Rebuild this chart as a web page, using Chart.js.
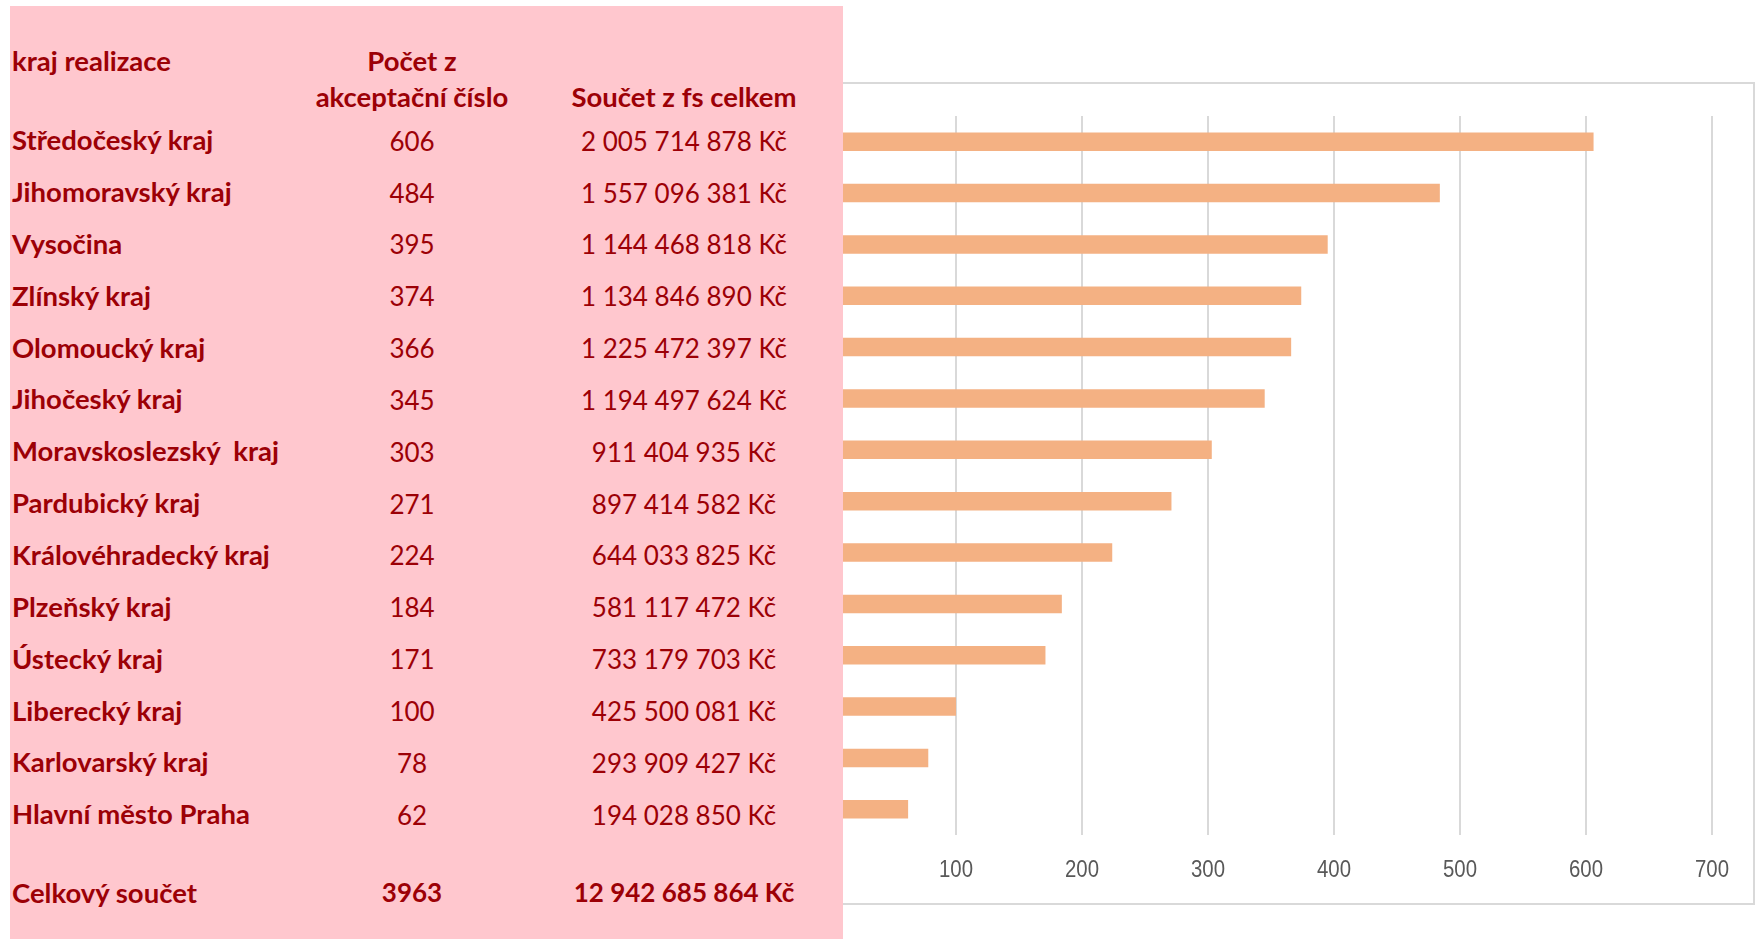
<!DOCTYPE html>
<html lang="cs">
<head>
<meta charset="utf-8">
<title>kraj realizace</title>
<script src="https://cdn.jsdelivr.net/npm/chart.js@4.4.1/dist/chart.umd.min.js"></script>
<style>
    html, body { margin: 0; padding: 0; background: #ffffff; }
    body { width: 1756px; height: 939px; position: relative; overflow: hidden; }
    #chart-frame {
        position: absolute; left: 780px; top: 82px;
        width: 971px; height: 819px;
        border: 2px solid #d9d9d9; z-index: 0;
    }
    #chart-box { position: absolute; left: 0; top: 0; width: 1756px; height: 939px; z-index: 1; }
    #table-panel {
        position: absolute; left: 10px; top: 6px; width: 833px; height: 933px;
        background: #ffc7ce; z-index: 2;
    }
    .cell {
        position: absolute; height: 30px; line-height: 30px;
        font-family: Lato, 'Noto Sans', sans-serif; font-size: 26px;
        color: #9c0006; white-space: pre;
    }
    .name { left: 2px; font-weight: bold; font-size: 27.5px; }
    .head { font-weight: bold; font-size: 27.5px; }
    .num { width: 300px; text-align: center; }
    .bold { font-weight: bold; }
</style>
</head>
<body>
<div id="chart-frame"></div>
<div id="chart-box"><canvas id="count-bar-chart"></canvas></div>
<div id="table-panel"></div>

<script>
const regions = [
    'Středočeský kraj', 'Jihomoravský kraj', 'Vysočina', 'Zlínský kraj',
    'Olomoucký kraj', 'Jihočeský kraj', 'Moravskoslezský  kraj', 'Pardubický kraj',
    'Královéhradecký kraj', 'Plzeňský kraj', 'Ústecký kraj', 'Liberecký kraj',
    'Karlovarský kraj', 'Hlavní město Praha'
];
const counts = [606, 484, 395, 374, 366, 345, 303, 271, 224, 184, 171, 100, 78, 62];
const sums = [
    2005714878, 1557096381, 1144468818, 1134846890, 1225472397, 1194497624, 911404935,
    897414582, 644033825, 581117472, 733179703, 425500081, 293909427, 194028850
];
const totalLabel = 'Celkový součet';
const totalCount = 3963;
const totalSum = 12942685864;
const headers = ['kraj realizace', 'Počet z', 'akceptační číslo', 'Součet z fs celkem'];
const xTicks = [0, 100, 200, 300, 400, 500, 600, 700];

// Table layout (panel coords, panel starts at x=10, y=6)
const COL_COUNT = 402;
const COL_SUM = 674;
const ROW_PITCH = 51.85;   // table rows are a bit taller than the bar bands

// "2005714878" -> "2 005 714 878 Kč"
function formatKc(value) {
    return String(value).replace(/\B(?=(\d{3})+(?!\d))/g, ' ') + ' Kč';
}

// Add one text cell to the pink panel
function addCell(panel, text, cls, centerY, centerX, shift) {
    const el = document.createElement('div');
    el.className = 'cell ' + cls;
    el.textContent = text;
    el.style.top = (centerY - 6 - 15 - (shift || 1)) + 'px';
    if (centerX !== undefined) el.style.left = (centerX - 150) + 'px';
    panel.appendChild(el);
}

// Narrow tick labels under the value axis (Calibri-like width)
const narrowTicks = {
    id: 'narrowTicks',
    afterDraw(chart) {
        const scale = chart.scales.x;
        const c = chart.ctx;
        const y = scale.top + 35;
        c.save();
        c.fillStyle = '#595959';
        c.font = "24px 'Liberation Sans', sans-serif";
        c.textAlign = 'center';
        c.textBaseline = 'middle';
        scale.ticks.forEach(tick => {
            const x = scale.getPixelForValue(tick.value);
            c.save();
            c.translate(x, y);
            c.scale(0.85, 1);
            c.fillText(String(tick.value), 0, 0);
            c.restore();
        });
        c.restore();
    }
};

// Create the horizontal bar chart
const ctx = document.getElementById('count-bar-chart');
const chart = new Chart(ctx, {
    type: 'bar',
    data: {
        labels: regions,
        datasets: [{
            data: counts,
            backgroundColor: '#f4b183',
            borderWidth: 0,
            barPercentage: 0.36,
            categoryPercentage: 1
        }]
    },
    options: {
        indexAxis: 'y',
        responsive: true,
        maintainAspectRatio: false,
        animation: false,
        layout: {
            padding: { left: 830, right: 44, top: 116, bottom: 0 }
        },
        plugins: {
            legend: { display: false },
            tooltip: { enabled: false }
        },
        scales: {
            x: {
                min: 0,
                max: 700,
                afterBuildTicks: (axis) => {
                    axis.ticks = xTicks.map(v => ({ value: v }));
                },
                afterFit: (scale) => {
                    scale.height = 104;
                },
                grid: { color: '#d9d9d9', lineWidth: 2, drawTicks: false },
                border: { display: false },
                ticks: { display: false }
            },
            y: { display: false }
        }
    },
    plugins: [narrowTicks]
});

// Build the table, first row level with the first bar
const panel = document.getElementById('table-panel');
const firstRowY = chart.scales.y.getPixelForValue(0);

addCell(panel, headers[0], 'name', 62.5, undefined, 1.5);
addCell(panel, headers[1], 'num head', 62.5, COL_COUNT, 1.5);
addCell(panel, headers[2], 'num head', 98, COL_COUNT, 1.5);
addCell(panel, headers[3], 'num head', 98, COL_SUM, 1.5);

regions.forEach((region, i) => {
    const y = firstRowY + i * ROW_PITCH;
    addCell(panel, region, 'name', y, undefined, 1.5);
    addCell(panel, String(counts[i]), 'num', y, COL_COUNT);
    addCell(panel, formatKc(sums[i]), 'num', y, COL_SUM);
});

addCell(panel, totalLabel, 'name', 893, undefined, 0.5);
addCell(panel, String(totalCount), 'num bold', 893, COL_COUNT, 0);
addCell(panel, formatKc(totalSum), 'num bold', 893, COL_SUM, 0);
</script>
</body>
</html>
